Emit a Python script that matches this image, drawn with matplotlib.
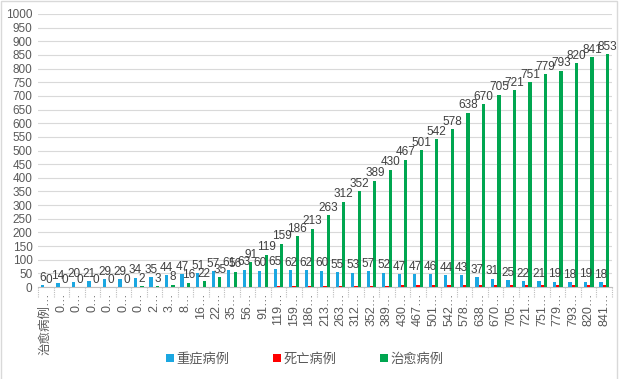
import matplotlib
matplotlib.use("Agg")
import matplotlib.pyplot as plt
import numpy as np
from matplotlib.patches import Rectangle

plt.rcParams['font.family'] = ['Liberation Sans', 'Noto Sans CJK SC', 'DejaVu Sans']

# 分类标签（Excel 截断后的样子）
categories = ["治愈病例…", "0…", "0…", "0…", "0…", "0…", "0…", "2…", "3…", "8…",
              "16…", "22…", "35…", "56…", "91…", "119…", "159…", "186…", "213…",
              "263…", "312…", "352…", "389…", "430…", "467…", "501…", "542…",
              "578…", "638…", "670…", "705…", "721…", "751…", "779…", "793…",
              "820…", "841…"]

severe = [6, 14, 20, 21, 29, 29, 34, 35, 44, 47, 51, 57, 61, 63, 60, 65, 62, 62,
          60, 55, 53, 57, 52, 47, 47, 46, 44, 43, 37, 31, 25, 22, 21, 19, 18, 19, 18]
deaths = [0, 0, 0, 0, 0, 0, 0, 0, 0, 0, 0, 0, 0, 0, 1, 2, 3, 3, 4, 4, 5, 5, 5, 6,
          6, 6, 6, 6, 6, 6, 6, 6, 6, 6, 6, 6, 6]
cured = [0, 0, 0, 0, 0, 0, 2, 3, 8, 16, 22, 35, 56, 91, 119, 159, 186, 213, 263,
         312, 352, 389, 430, 467, 501, 542, 578, 638, 670, 705, 721, 751, 779,
         793, 820, 841, 853]

series_names = ["重症病例", "死亡病例", "治愈病例"]
colors = ["#1ba7e1", "#ff0000", "#00a650"]

fig = plt.figure(figsize=(6.22, 3.79), dpi=100)
ax = fig.add_axes([38 / 622, 1 - 287 / 379, 574 / 622, 273 / 379])

n = len(categories)
x = np.arange(n)
w = 0.21

b1 = ax.bar(x - w, severe, w, color=colors[0], label=series_names[0], zorder=3)
b2 = ax.bar(x, deaths, w, color=colors[1], label=series_names[1], zorder=3)
b3 = ax.bar(x + w, cured, w, color=colors[2], label=series_names[2], zorder=3)

ax.bar_label(b1, fontsize=8.5, color="#404040", padding=1)
ax.bar_label(b3, fontsize=8.5, color="#404040", padding=1)

ax.set_xlim(-0.5, n - 0.5)
ax.set_ylim(0, 1000)
ax.set_yticks(np.arange(0, 1001, 50))
ax.tick_params(axis='y', length=0, labelsize=8.5, labelcolor="#595959", pad=4)
ax.grid(axis='y', color="#d9d9d9", linewidth=0.8, zorder=0)

ax.set_xticks(x)
ax.set_xticklabels(categories, rotation=90, fontsize=9, color="#595959")
ax.tick_params(axis='x', length=0, pad=4)

for s in ["top", "right", "left"]:
    ax.spines[s].set_visible(False)
ax.spines["bottom"].set_color("#bfbfbf")
ax.spines["bottom"].set_linewidth(0.8)

# 虚线刻度（分类之间）
trans = ax.get_xaxis_transform()
ax.vlines(np.arange(n + 1) - 0.5, -0.037, 0, transform=trans, colors="#bfbfbf",
          linestyles=(0, (1, 1)), linewidth=0.8, clip_on=False)

leg = fig.legend(loc="center", bbox_to_anchor=(305 / 622, 1 - 359 / 379),
                 ncol=3, frameon=False, fontsize=9.5, handlelength=0.6,
                 handleheight=0.6, handletextpad=0.2, columnspacing=3.3)
for t in leg.get_texts():
    t.set_color("#595959")

fig.patches.append(Rectangle((0.002, -0.01), 616 / 622, 1.008, transform=fig.transFigure,
                             fill=False, edgecolor="#d9d9d9", linewidth=1))

fig.savefig("out.png", dpi=100)
